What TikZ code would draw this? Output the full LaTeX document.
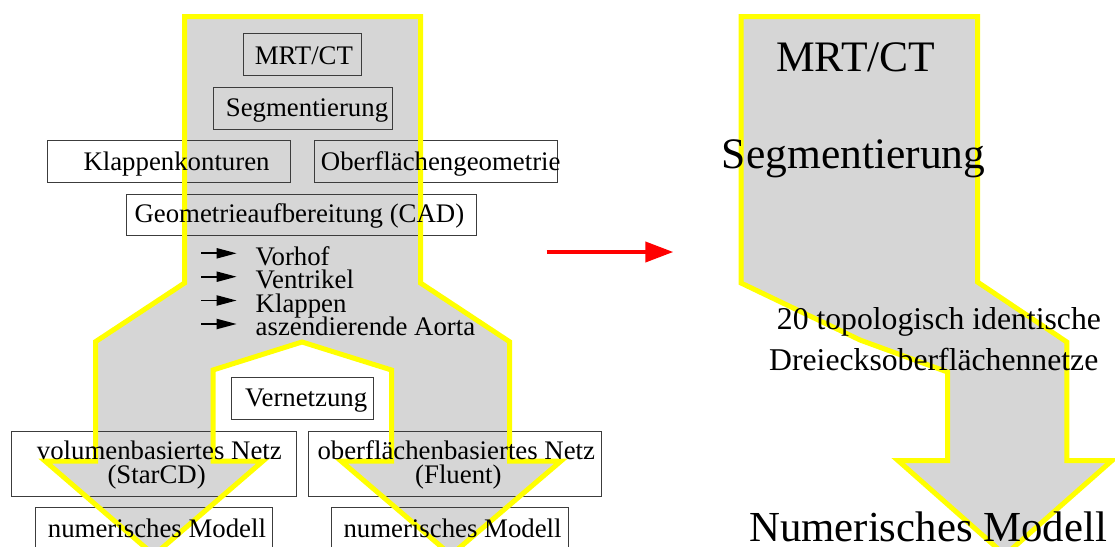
\documentclass[tikz,border=0pt]{standalone}
\usepackage{fontspec}
\setmainfont{Liberation Serif}[Ligatures=NoCommon]
\usetikzlibrary{arrows.meta}

\definecolor{flowgray}{RGB}{214,214,214}
\definecolor{flowyellow}{RGB}{255,255,0}
\definecolor{boxline}{RGB}{60,60,60}
\definecolor{pointerred}{RGB}{255,0,0}

\tikzset{
  flowfill/.style={fill=flowgray, draw=none},
  flowedge/.style={draw=flowyellow, line width=5pt, line join=miter, miter limit=10},
  stagebox/.style={draw=boxline, line width=1pt},
  lbl/.style={inner sep=0pt, anchor=base west, font=\fontsize{26.8}{30}\selectfont},
  biglbl/.style={inner sep=0pt, anchor=base west, font=\fontsize{43.5}{48}\selectfont},
  midlbl/.style={inner sep=0pt, anchor=base west, font=\fontsize{31.7}{36}\selectfont},
  bullet/.style={line width=1.9pt, -{Triangle[length=20pt,width=10pt]}},
  pointer/.style={draw=pointerred, line width=4pt, -{Triangle[length=28pt,width=20pt]}, color=pointerred}
}

\begin{document}
\begin{tikzpicture}[x=1pt, y=-1pt]
\useasboundingbox (0,0) rectangle (1115,546);
\clip (0,0) rectangle (1115,546);

% ---- left flow: one trunk splitting into two arrows ----
\coordinate (L1)  at (184.5,16.5);
\coordinate (L2)  at (420.5,16.5);
\coordinate (L3)  at (420.5,283);
\coordinate (L4)  at (509.5,341.7);
\coordinate (L5)  at (509.5,461);
\coordinate (L6)  at (561,461);
\coordinate (L7)  at (451,555);
\coordinate (L8)  at (341,461);
\coordinate (L9)  at (391.5,461);
\coordinate (L10) at (391.5,370);
\coordinate (L11) at (302,342);
\coordinate (L12) at (213,370);
\coordinate (L13) at (213,461);
\coordinate (L14) at (263,461);
\coordinate (L15) at (154,555);
\coordinate (L16) at (45,461);
\coordinate (L17) at (95.5,461);
\coordinate (L18) at (95.5,341.7);
\coordinate (L19) at (184.5,283);

% ---- right flow: single bent arrow ----
\coordinate (R1)  at (741,16.5);
\coordinate (R2)  at (977.5,16.5);
\coordinate (R3)  at (977.5,282);
\coordinate (R4)  at (1066.8,342);
\coordinate (R5)  at (1066.8,460.5);
\coordinate (R6)  at (1112,460.5);
\coordinate (R7)  at (1005,555);
\coordinate (R8)  at (898,460.5);
\coordinate (R9)  at (947.5,460.5);
\coordinate (R10) at (947.5,372);
\coordinate (R11) at (860,340);
\coordinate (R12) at (741,283);

\path[flowfill] (L1) -- (L2) -- (L3) -- (L4) -- (L5) -- (L6) -- (L7) -- (L8) -- (L9)
  -- (L10) -- (L11) -- (L12) -- (L13) -- (L14) -- (L15) -- (L16) -- (L17) -- (L18) -- (L19) -- cycle;
\path[flowfill] (R1) -- (R2) -- (R3) -- (R4) -- (R5) -- (R6) -- (R7) -- (R8) -- (R9)
  -- (R10) -- (R11) -- (R12) -- cycle;

% ---- stage boxes ----
\draw[stagebox] (243,33.7) rectangle (361.4,75.3);
\draw[stagebox] (213,87.3) rectangle (392,129);
\draw[stagebox] (47.3,140.7) rectangle (290.7,182.3);
\draw[stagebox] (314,140.7) rectangle (557.3,182.3);
\draw[stagebox] (126.3,194) rectangle (476.7,235.3);
\draw[stagebox] (231,377.7) rectangle (373.5,419);
\draw[stagebox] (11.7,431) rectangle (296.7,496);
\draw[stagebox] (308.3,431) rectangle (601.7,496);
\draw[stagebox] (35.7,507.7) rectangle (272.7,560);
\draw[stagebox] (331.7,507.7) rectangle (568.3,560);

% ---- yellow outlines ----
\draw[flowedge] (L1) -- (L2) -- (L3) -- (L4) -- (L5) -- (L6) -- (L7) -- (L8) -- (L9)
  -- (L10) -- (L11) -- (L12) -- (L13) -- (L14) -- (L15) -- (L16) -- (L17) -- (L18) -- (L19) -- cycle;
\draw[flowedge] (R1) -- (R2) -- (R3) -- (R4) -- (R5) -- (R6) -- (R7) -- (R8) -- (R9)
  -- (R10) -- (R11) -- (R12) -- cycle;

% ---- left labels ----
\node[lbl] (mrt) at (254.6,64.2) {MRT/CT};
\node[lbl] (seg) at (225.7,116.8) {Segmentierung};
\node[lbl] (klap) at (83.3,170.7) {Klappenkonturen};
\node[lbl] (oberf) at (320.7,170.7) {Oberflächengeometrie};
\node[lbl] (cad) at (134.3,222.7) {Geometrieaufbereitung (CAD)};
\node[lbl] (vorhof) at (255.5,265) {Vorhof};
\node[lbl] (ventr) at (255.5,288.5) {Ventrikel};
\node[lbl] (klappen) at (255.5,312) {Klappen};
\node[lbl] (aorta) at (255.5,335.5) {aszendierende Aorta};
\node[lbl] (vernetz) at (245,406.7) {Vernetzung};
\node[lbl] (vol) at (36.7,459.3) {volumenbasiertes Netz};
\node[lbl] (star) at (107.3,483.3) {(StarCD)};
\node[lbl] (surf) at (317.3,459.3) {oberflächenbasiertes Netz};
\node[lbl] (fluent) at (415,483.3) {(Fluent)};
\node[lbl] (numA) at (47.7,537.3) {numerisches Modell};
\node[lbl] (numB) at (343.3,537.3) {numerisches Modell};

% ---- list bullets ----
\foreach \yy [count=\i] in {253.3,276.7,300.5,324} {
  \coordinate (bs\i) at (201,\yy);
  \coordinate (be\i) at (236.7,\yy);
  \draw[bullet] (bs\i) -- (be\i);
}

% ---- red pointer between the two views ----
\coordinate (ptrA) at (546.7,252);
\coordinate (ptrB) at (673.3,252);
\draw[pointer] (ptrA) -- (ptrB);

% ---- right labels ----
\node[biglbl] (rmrt) at (776,71.7) {MRT/CT};
\node[biglbl] (rseg) at (721.7,168.2) {Segmentierung};
\node[midlbl] (rtopo) at (776.7,329) {20 topologisch identische};
\node[midlbl] (rnetz) at (769,370.5) {Dreiecksoberflächennetze};
\node[font=\fontsize{42.8}{46}\selectfont, inner sep=0pt, anchor=base west] (rnum) at (749,541.7) {Numerisches Modell};

\end{tikzpicture}
\end{document}
